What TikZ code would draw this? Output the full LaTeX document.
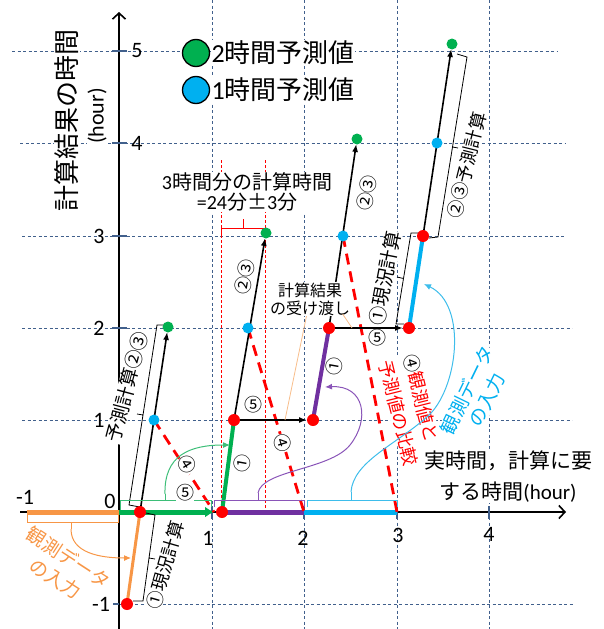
\documentclass[tikz,border=0pt]{standalone}
\usepackage{fontspec}
\setmainfont{Carlito}
\newfontfamily\jp{Noto Sans CJK JP}
\usetikzlibrary{arrows.meta,calc}
\definecolor{gridc}{HTML}{41608C}
\definecolor{grn}{HTML}{00B050}
\definecolor{blu}{HTML}{00B0F0}
\definecolor{pur}{HTML}{7030A0}
\definecolor{org}{HTML}{F79646}
\definecolor{lorg}{HTML}{F8BD8A}
\definecolor{lgrn}{HTML}{3DBE78}
\definecolor{lpur}{HTML}{8A55B8}
\definecolor{lblu}{HTML}{3EBDEB}
\begin{document}
\begin{tikzpicture}[x=1pt,y=-1pt,
  gridl/.style={draw=gridc, line width=0.8pt, dash pattern=on 3pt off 2.5pt},
  tickl/.style={draw=gridc, line width=1.5pt},
  axisl/.style={draw=black, line width=1.6pt, -{Straight Barb[length=6pt,width=13pt,line width=1.6pt]}},
  blk/.style={draw=black, line width=1.6pt, -{Latex[length=8pt,width=6pt]}},
  rdash/.style={draw=red, line width=2.8pt, dash pattern=on 11pt off 7pt},
  rdotted/.style={draw=red, line width=0.6pt, dash pattern=on 3pt off 2pt},
  rdotn/.style={circle, fill=red, minimum size=12pt, inner sep=0pt},
  bdotn/.style={circle, fill=blu, minimum size=11pt, inner sep=0pt},
  gdotn/.style={circle, fill=grn, minimum size=11pt, inner sep=0pt},
  brk/.style={draw=black, line width=0.8pt},
  lbl/.style={fill=white, inner sep=0.5pt},
  tk/.style={font=\fontsize{22}{22}\selectfont, inner sep=0pt},
  cn/.style={fill=white, inner sep=0.3pt, font=\jp\fontsize{18}{18}\selectfont},
  vt/.style={fill=white, inner sep=0.5pt, font=\jp\fontsize{18}{18}\selectfont}
]
\useasboundingbox (0,0) rectangle (604,629);
% grid
\foreach \yy/\xa/\xb in {51/12/557,143/20/565,236/22/565,328/22/572,420/22/572,604/113/573}
  \draw[gridl] (\xa,\yy) -- (\xb,\yy);
\foreach \xx in {212,304,397,489}
  \draw[gridl] (\xx,0) -- (\xx,629);
% red dotted markers of calculation time
\draw[rdotted] (221,160) -- (221,512);
\draw[rdotted] (265,160) -- (265,512);
\draw[draw=red, line width=0.8pt] (221,236) -- (221,228) -- (265,228) -- (265,236) (243,228) -- (243,219);
% axes
\draw[axisl] (119,629) -- (119,12);
\draw[axisl] (20,512) -- (566,512);
\foreach \yy in {51,143,236,328,420} \draw[tickl] (112,\yy) -- (127,\yy);
\draw[tickl] (113,604) -- (119,604);
\foreach \xx in {212,304,397,489} \draw[tickl] (\xx,506) -- (\xx,519);
% coordinates
\coordinate (xm1) at (27,512);
\coordinate (x0) at (119,512);
\coordinate (x1) at (214,512);
\coordinate (x2) at (304,512);
\coordinate (x3) at (397,512);
\coordinate (r0a) at (127,604);
\coordinate (r0b) at (140,512);
\coordinate (b0) at (154,420);
\coordinate (g0) at (168,327);
\coordinate (r1a) at (222,512);
\coordinate (r1b) at (234,420);
\coordinate (b1) at (248,328);
\coordinate (g1) at (266,233);
\coordinate (r2a) at (313,420);
\coordinate (r2b) at (329,328);
\coordinate (b2) at (343,236);
\coordinate (g2) at (357,139);
\coordinate (r3a) at (409,328);
\coordinate (r3b) at (423,236);
\coordinate (b3) at (437,143);
\coordinate (g3) at (452,44);
% comparison text (under the dashed lines)
\node[lbl, rotate=-76, align=left, text=red, font=\jp\fontsize{18}{26}\selectfont] (cmp) at (411,410) {{\color{black}④}観測値と\\予測値の比較};
% thick colored lines
\draw[org, line width=5pt] (xm1) -- (x0);
\draw[grn, line width=5pt, -{Latex[length=9pt,width=11pt]}] (x0) -- (x1);
\draw[pur, line width=5pt] (r1a) -- (x2);
\draw[blu, line width=5pt] (x2) -- (x3);
\draw[org, line width=3pt] (r0a) -- (r0b);
\draw[grn, line width=4pt] (r1a) -- (r1b);
\draw[pur, line width=4pt] (r2a) -- (r2b);
\draw[blu, line width=4pt] (r3a) -- (r3b);
% red dashed comparisons
\draw[rdash] (b0) -- (x1);
\draw[rdash] (b1) -- (x2);
\draw[rdash] (b2) -- (x3);
% black prediction arrows
\draw[blk, shorten >=5pt] (r0b) -- (g0);
\draw[blk, shorten >=5pt] (r1b) -- (g1);
\draw[blk, shorten >=5pt] (r2b) -- (g2);
\draw[blk, shorten >=5pt] (r3b) -- (g3);
\draw[blk, shorten >=6pt] (r1b) -- (r2a);
\draw[blk, shorten >=6pt] (r2b) -- (r3a);
% brackets along the lines
\draw[brk] (146,513) -- (155,515) -- (143,601) -- (133,601) (149,558) -- (155,559);
\draw[brk] (140,507) -- (129,505) -- (157,325) -- (164,325) (143,415) -- (137,414);
\draw[brk] (404,324) -- (396,324) -- (411,233) -- (419,233) (403.5,278.5) -- (397,277);
\draw[brk] (457,54) -- (467,57) -- (438,237) -- (429,238) (452.5,147) -- (458,148);
% x-axis brackets and curved arrows
\draw[org, line width=0.8pt] (27,513) -- (27,522) -- (118,522) -- (118,513) (71,522) -- (71,529);
\draw[org, line width=1pt, -{Latex[length=7pt,width=6pt]}] (71,529) .. controls (71,553) and (100,558) .. (131,558);
\draw[lgrn, line width=0.8pt] (120,510) -- (120,500) -- (211,500) -- (211,507) (165,500) -- (165,494);
\draw[lgrn, line width=1pt, -{Latex[length=7pt,width=6pt]}] (165,494) .. controls (164,455) and (190,445) .. (230,445);
\draw[lpur, line width=0.8pt] (214,507) -- (214,500) -- (304,500) -- (304,507) (258,500) -- (258,493);
\draw[lpur, line width=1pt, -{Latex[length=7pt,width=6pt]}] (258,493) .. controls (262,470) and (330,470) .. (350,445) .. controls (370,420) and (365,385) .. (325,387);
\draw[lblu, line width=0.8pt] (307,507) -- (307,500) -- (397,500) -- (397,507) (351,500) -- (351,492);
\draw[lblu, line width=1pt, -{Latex[length=7pt,width=6pt]}] (351,492) .. controls (353,462) and (395,445) .. (427,417) .. controls (458,390) and (468,305) .. (424,284);
% dots
\foreach \n in {r0a,r0b,r1a,r1b,r2a,r2b,r3a,r3b} \node[rdotn] (N\n) at (\n) {};
\foreach \n in {b0,b1,b2,b3} \node[bdotn] (N\n) at (\n) {};
\foreach \n in {g0,g1,g2,g3} \node[gdotn] (N\n) at (\n) {};
% text: hand-over label
\node[lbl, align=center, font=\jp\fontsize{16}{18}\selectfont] (kk) at (310,299) {計算結果\\の受け渡し};
\coordinate (hA) at (285,420);
\coordinate (hB) at (352,328);
\draw[lorg, line width=0.8pt] (kk) -- (hA);
\draw[lorg, line width=0.8pt] ($(kk.south east)+(-8,-2)$) -- (hB);
% axis labels
\node[lbl, rotate=90, font=\jp\fontsize{26}{26}\selectfont] (ylab) at (67,120) {計算結果の時間};
\node[lbl, rotate=90, font=\fontsize{22}{22}\selectfont] (yhr) at (97,116) {(hour)};
\node[lbl, align=center, font=\jp\fontsize{21}{31}\selectfont] (xlab) at (508,477) {実時間，計算に要\\する時間{\rmfamily(hour)}};
% tick labels
\node[tk] (ty5) at (137,51) {5};
\node[tk] (ty4) at (137,143) {4};
\node[tk] (ty3) at (99,236) {3};
\node[tk] (ty2) at (99,328) {2};
\node[tk] (ty1) at (99,420) {1};
\node[tk] (ty0) at (110,501) {0};
\node[tk] (tym) at (101,604) {-1};
\node[tk] (txm) at (25,497) {-1};
\node[tk] (tx1) at (208,538) {1};
\node[tk] (tx2) at (303,538) {2};
\node[tk] (tx3) at (398,535) {3};
\node[tk] (tx4) at (489,534) {4};
% legend
\node[circle, draw=black, line width=1.3pt, fill=grn, minimum size=27pt, inner sep=0pt] (lgG) at (196,53) {};
\node[circle, draw=black, line width=1.3pt, fill=blu, minimum size=27pt, inner sep=0pt] (lgB) at (196,90) {};
\node[lbl, anchor=west, font=\fontsize{26}{26}\selectfont] (lgGt) at (211,53) {2{\jp 時間予測値}};
\node[lbl, anchor=west, font=\fontsize{26}{26}\selectfont] (lgBt) at (211,90) {1{\jp 時間予測値}};
% calculation time label
\node[lbl, align=center, font=\fontsize{20}{20}\selectfont] (ct) at (247,192) {3{\jp 時間分の計算時間}\\={}24{\jp 分±}3{\jp 分}};
% rotated labels
\node[vt, rotate=74] (cur0) at (165,565) {①現況計算};
\node[vt, rotate=75, font=\jp\fontsize{19}{19}\selectfont] (pre0) at (127,387) {予測計算②③};
\node[vt, rotate=79, font=\jp\fontsize{19}{19}\selectfont] (cur3) at (385,278) {①現況計算};
\node[vt, rotate=76] (pre3) at (467,165) {②③予測計算};
\node[cn, rotate=80] (c23a) at (245,277) {②③};
\node[cn, rotate=80] (c23b) at (367,193) {②③};
\node[cn, rotate=80] (c1a) at (242,463) {①};
\node[cn, rotate=80] (c1b) at (334,366) {①};
\node[cn, rotate=-58] (c4a) at (187,465) {④};
\node[cn, rotate=-73] (c4b) at (283,443) {④};
\node[cn] (c5a) at (185,493) {⑤};
\node[cn] (c5b) at (253,405) {⑤};
\node[cn] (c5c) at (377,338) {⑤};
% observation texts
\node[lbl, rotate=64, align=center, text=blu, font=\jp\fontsize{19}{22}\selectfont] (obs2) at (477,395) {観測データ\\の入力};
\node[rotate=-33, align=center, text=org, inner sep=0.5pt, font=\jp\fontsize{19}{25}\selectfont] (obs1) at (62,568) {観測データ\\の入力};
\end{tikzpicture}
\end{document}
